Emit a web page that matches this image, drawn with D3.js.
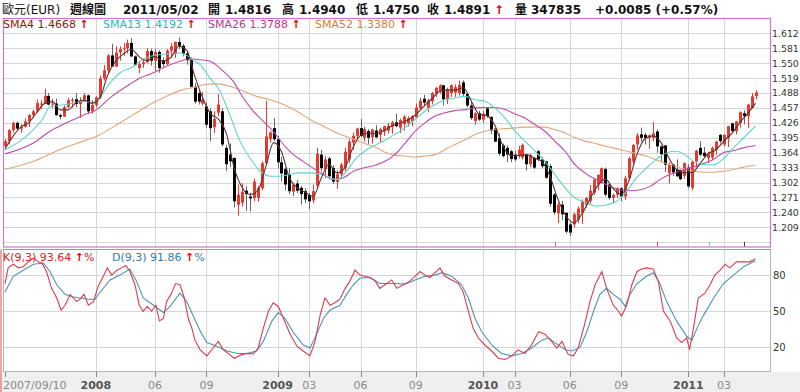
<!DOCTYPE html>
<html>
<head>
<meta charset="utf-8">
<script src="https://cdn.jsdelivr.net/npm/d3@7"></script>
<style>
  body { margin: 0; background: #fff; }
  svg { display: block; font-family: 'DejaVu Sans', 'Noto Sans CJK TC', sans-serif; }
</style>
</head>
<body>
<svg id="chart" width="800" height="392"></svg>
<script>
// EUR weekly candles, week 0 = 2007/09/10 ... week 190 = 2011/05/02

const open = [
  1.3780,1.3880,1.4110,1.4260,1.4140,1.4180,1.4290,1.4420,1.4500,1.4640,
  1.4660,1.4820,1.4640,1.4660,1.4420,1.4390,1.4590,1.4730,1.4750,1.4650,
  1.4700,1.4830,1.4500,1.4630,1.4790,1.5180,1.5350,1.5660,1.5430,1.5720,
  1.5790,1.5810,1.5920,1.5640,1.5400,1.5480,1.5520,1.5750,1.5550,1.5730,
  1.5560,1.5480,1.5760,1.5690,1.5940,1.5860,1.5700,1.5560,1.5010,1.4880,
  1.4660,1.4600,1.4500,1.4170,1.4470,1.4500,1.3740,1.3600,1.3530,1.2560,
  1.2600,1.2850,1.2730,1.2700,1.2700,1.2900,1.3420,1.3920,1.4150,1.3920,
  1.3440,1.3300,1.3180,1.2830,1.3000,1.2910,1.2840,1.2760,1.2650,1.2960,
  1.3600,1.3300,1.3520,1.3320,1.3030,1.3190,1.3330,1.3500,1.3850,1.3990,
  1.4150,1.3950,1.4090,1.3960,1.4100,1.4010,1.4080,1.4100,1.4180,1.4270,
  1.4160,1.4230,1.4250,1.4290,1.4370,1.4570,1.4760,1.4570,1.4710,1.4860,
  1.4920,1.5040,1.4750,1.4880,1.4890,1.4880,1.5100,1.4860,1.4620,1.4300,
  1.4460,1.4330,1.4560,1.4380,1.4140,1.3940,1.3790,1.3740,1.3670,1.3600,
  1.3570,1.3540,1.3600,1.3400,1.3530,1.3670,1.3500,1.3460,1.3360,1.2770,
  1.2380,1.2560,1.2390,1.2150,1.2150,1.2250,1.2390,1.2560,1.2640,1.2810,
  1.2980,1.3050,1.3300,1.2980,1.2700,1.2770,1.2900,1.2730,1.3110,1.3460,
  1.3810,1.4020,1.4010,1.3950,1.3950,1.4080,1.3770,1.3790,1.3220,1.3390,
  1.3290,1.3280,1.3160,1.3330,1.2910,1.3460,1.3740,1.3640,1.3530,1.3540,
  1.3700,1.4010,1.3810,1.3950,1.4250,1.4090,1.4260,1.4460,1.4400,1.4570,
  1.4816
];
const high = [
  1.3920,1.4130,1.4280,1.4290,1.4230,1.4350,1.4440,1.4530,1.4750,1.4730,
  1.4967,1.4880,1.4760,1.4760,1.4450,1.4620,1.4780,1.4780,1.4880,1.4790,
  1.4880,1.4850,1.4730,1.4810,1.5240,1.5460,1.5690,1.5900,1.5850,1.5850,
  1.5920,1.5990,1.6020,1.5660,1.5540,1.5570,1.5810,1.5800,1.5800,1.5770,
  1.5620,1.5790,1.5920,1.5950,1.6038,1.5900,1.5740,1.5620,1.5080,1.4950,
  1.4900,1.4680,1.4560,1.4500,1.4860,1.4560,1.3800,1.3830,1.3540,1.2980,
  1.3000,1.2940,1.2810,1.3100,1.2950,1.3460,1.4720,1.4090,1.4360,1.3980,
  1.3550,1.3330,1.3320,1.3000,1.3070,1.2950,1.2900,1.2800,1.2980,1.3740,
  1.3700,1.3570,1.3560,1.3380,1.3270,1.3430,1.3740,1.3920,1.4060,1.4160,
  1.4340,1.4180,1.4130,1.4140,1.4210,1.4160,1.4200,1.4260,1.4300,1.4450,
  1.4350,1.4420,1.4400,1.4420,1.4660,1.4780,1.4840,1.4760,1.4900,1.5000,
  1.5060,1.5050,1.4990,1.5060,1.5060,1.5140,1.5144,1.4880,1.4720,1.4480,
  1.4510,1.4510,1.4580,1.4400,1.4160,1.4040,1.3830,1.3790,1.3700,1.3680,
  1.3780,1.3830,1.3620,1.3620,1.3550,1.3700,1.3550,1.3470,1.3400,1.2800,
  1.2600,1.2640,1.2400,1.2180,1.2390,1.2520,1.2670,1.2720,1.2970,1.3100,
  1.3190,1.3330,1.3330,1.2990,1.2790,1.2920,1.2920,1.3160,1.3560,1.3820,
  1.4050,1.4160,1.4050,1.4020,1.4280,1.4120,1.3790,1.3800,1.3440,1.3400,
  1.3500,1.3290,1.3440,1.3400,1.3470,1.3700,1.3880,1.3760,1.3660,1.3770,
  1.3890,1.4030,1.4020,1.4200,1.4260,1.4300,1.4500,1.4520,1.4650,1.4880,
  1.4940
];
const low = [
  1.3750,1.3810,1.4060,1.4090,1.4050,1.4160,1.4180,1.4360,1.4480,1.4550,
  1.4650,1.4620,1.4560,1.4400,1.4330,1.4380,1.4560,1.4580,1.4580,1.4360,
  1.4690,1.4440,1.4450,1.4580,1.4760,1.5140,1.5300,1.5460,1.5420,1.5550,
  1.5650,1.5700,1.5630,1.5450,1.5290,1.5400,1.5500,1.5450,1.5340,1.5300,
  1.5420,1.5450,1.5610,1.5610,1.5800,1.5640,1.5470,1.5000,1.4660,1.4640,
  1.4620,1.4150,1.3880,1.4050,1.4400,1.3770,1.3260,1.3340,1.2500,1.2330,
  1.2520,1.2430,1.2420,1.2630,1.2620,1.2860,1.3400,1.3850,1.3880,1.3310,
  1.3040,1.2860,1.2780,1.2740,1.2800,1.2560,1.2600,1.2460,1.2590,1.2900,
  1.3250,1.3110,1.3100,1.2990,1.2890,1.3090,1.3230,1.3430,1.3700,1.3880,
  1.3960,1.3870,1.3820,1.3830,1.3940,1.3850,1.3990,1.4040,1.4030,1.4170,
  1.4050,1.4100,1.4180,1.4190,1.4350,1.4530,1.4600,1.4480,1.4640,1.4800,
  1.4860,1.4620,1.4650,1.4800,1.4800,1.4830,1.4800,1.4580,1.4320,1.4220,
  1.4300,1.4260,1.4360,1.4030,1.3860,1.3580,1.3540,1.3440,1.3440,1.3460,
  1.3520,1.3500,1.3270,1.3340,1.3300,1.3470,1.3320,1.3100,1.2520,1.2350,
  1.2180,1.2240,1.1960,1.1900,1.2080,1.2180,1.2160,1.2500,1.2580,1.2760,
  1.2860,1.3000,1.2730,1.2660,1.2590,1.2700,1.2630,1.2660,1.3060,1.3400,
  1.3700,1.3870,1.3810,1.3720,1.3880,1.3640,1.3450,1.3240,1.3000,1.3160,
  1.3130,1.3070,1.3100,1.2900,1.2860,1.3340,1.3570,1.3540,1.3430,1.3490,
  1.3600,1.3830,1.3770,1.3760,1.4050,1.4020,1.4160,1.4230,1.4150,1.4560,
  1.4750
];
const close = [
  1.3880,1.4110,1.4260,1.4140,1.4180,1.4290,1.4420,1.4500,1.4670,1.4660,
  1.4820,1.4640,1.4660,1.4420,1.4390,1.4590,1.4730,1.4740,1.4650,1.4700,
  1.4830,1.4500,1.4630,1.4790,1.5180,1.5350,1.5660,1.5430,1.5720,1.5790,
  1.5810,1.5920,1.5640,1.5460,1.5480,1.5520,1.5750,1.5550,1.5730,1.5400,
  1.5480,1.5760,1.5850,1.5940,1.5860,1.5700,1.5560,1.5010,1.4700,1.4700,
  1.4740,1.4220,1.4150,1.4340,1.4640,1.3810,1.3400,1.3460,1.2630,1.2770,
  1.2830,1.2780,1.2690,1.3040,1.2900,1.3420,1.3980,1.4060,1.3920,1.3440,
  1.3210,1.2980,1.2840,1.2980,1.2850,1.2780,1.2670,1.2630,1.2840,1.3620,
  1.3320,1.3500,1.3150,1.3040,1.3190,1.3390,1.3660,1.3870,1.3990,1.4140,
  1.3990,1.4130,1.3950,1.4120,1.3960,1.4130,1.4190,1.4200,1.4270,1.4190,
  1.4320,1.4390,1.4360,1.4400,1.4580,1.4720,1.4680,1.4730,1.4880,1.4990,
  1.5040,1.4750,1.4960,1.5040,1.5000,1.5050,1.4860,1.4620,1.4360,1.4460,
  1.4330,1.4450,1.4400,1.4100,1.3870,1.3620,1.3570,1.3600,1.3510,1.3500,
  1.3700,1.3800,1.3400,1.3590,1.3330,1.3500,1.3360,1.3120,1.2580,1.2400,
  1.2560,1.2360,1.2000,1.1980,1.2360,1.2480,1.2620,1.2700,1.2850,1.3080,
  1.3180,1.3320,1.2770,1.2700,1.2760,1.2900,1.2730,1.3110,1.3520,1.3800,
  1.4000,1.3950,1.3950,1.4000,1.4040,1.3770,1.3610,1.3390,1.3390,1.3230,
  1.3150,1.3090,1.3420,1.2940,1.3450,1.3680,1.3600,1.3570,1.3630,1.3740,
  1.3870,1.3880,1.4010,1.4190,1.4090,1.4290,1.4480,1.4400,1.4640,1.4810,
  1.4891
];

// moving averages: [week, value]
const sma4 = [
  [0,1.372],[2,1.398],[4,1.417],[6,1.426],[8,1.447],[10,1.466],[12,1.470],[14,1.453],
  [16,1.453],[18,1.468],[20,1.473],[22,1.467],[24,1.478],[26,1.525],[28,1.554],[30,1.569],
  [32,1.579],[34,1.563],[36,1.555],[38,1.564],[40,1.554],[42,1.562],[44,1.585],[46,1.577],
  [48,1.524],[50,1.479],[52,1.445],[54,1.434],[56,1.405],[58,1.333],[60,1.292],[62,1.277],
  [64,1.285],[66,1.334],[68,1.385],[70,1.366],[72,1.312],[74,1.291],[76,1.282],[78,1.273],
  [80,1.310],[82,1.340],[84,1.322],[86,1.332],[88,1.373],[90,1.400],[92,1.405],[94,1.404],
  [96,1.410],[98,1.420],[100,1.425],[102,1.432],[104,1.443],[106,1.460],[108,1.475],[110,1.491],
  [112,1.494],[114,1.494],[116,1.499],[118,1.472],[120,1.444],[122,1.441],[124,1.421],[126,1.379],
  [128,1.358],[130,1.358],[132,1.360],[134,1.353],[136,1.345],[138,1.314],[140,1.267],[142,1.233],
  [144,1.218],[146,1.236],[148,1.266],[150,1.295],[152,1.309],[154,1.289],[156,1.277],[158,1.307],
  [160,1.361],[162,1.393],[164,1.399],[166,1.386],[168,1.354],[170,1.329],[172,1.322],[174,1.323],
  [176,1.342],[178,1.362],[180,1.370],[182,1.388],[184,1.404],[186,1.426],[188,1.445],[190,1.4668]
];
const sma13 = [
  [0,1.370],[3.8,1.388],[7.2,1.412],[9.7,1.436],[11.4,1.460],[15.6,1.464],[19.8,1.471],[22.4,1.467],
  [24,1.478],[26.6,1.509],[29.1,1.530],[32.5,1.543],[34.2,1.554],[36.7,1.564],[40.9,1.569],[44.3,1.571],
  [46,1.566],[48.1,1.554],[49.4,1.547],[51.9,1.519],[54.4,1.492],[56.9,1.443],[59.5,1.388],[62,1.353],
  [64.6,1.326],[67.1,1.315],[69.6,1.315],[72.2,1.319],[74.7,1.322],[77.2,1.322],[79.8,1.319],[82.3,1.312],
  [84,1.308],[86.5,1.326],[89,1.353],[91.6,1.370],[94.1,1.381],[96.2,1.390],[98.7,1.402],[101.3,1.416],
  [103.8,1.433],[106.3,1.450],[108.9,1.464],[111.4,1.474],[113.9,1.478],[116.5,1.481],[119,1.474],[121.5,1.471],
  [124,1.457],[126.6,1.436],[129.1,1.409],[131.6,1.388],[134.2,1.367],[136.7,1.346],[139.2,1.319],[141.8,1.291],
  [144.3,1.270],[146.8,1.261],[149.8,1.253],[152.3,1.256],[154.9,1.263],[157.4,1.284],[159.9,1.312],[162.4,1.332],
  [164.9,1.350],[167.5,1.364],[170,1.367],[172.6,1.357],[174.3,1.346],[176.8,1.339],[179.4,1.339],[182.1,1.353],
  [184.4,1.374],[187,1.395],[190,1.4192]
];
const sma26 = [
  [0,1.3615],[7.2,1.384],[11.4,1.4085],[15.6,1.426],[19.8,1.442],[23.2,1.4535],[26.6,1.478],[30.8,1.502],
  [34.2,1.519],[37.6,1.530],[40.9,1.5435],[44.3,1.554],[46.8,1.559],[49.4,1.557],[51.9,1.554],[55.3,1.533],
  [57.8,1.512],[60.3,1.478],[62.9,1.450],[65.4,1.429],[67.9,1.4085],[70.5,1.381],[73,1.360],[75.5,1.346],
  [78,1.332],[80.6,1.319],[83.1,1.308],[85.7,1.312],[88.2,1.3255],[90.7,1.332],[94.1,1.339],[96.2,1.346],
  [98.7,1.360],[101.3,1.384],[103.8,1.4085],[106.3,1.426],[108.9,1.440],[111.4,1.447],[113.9,1.4514],[116.5,1.4535],
  [119,1.457],[121.5,1.458],[124,1.458],[126.6,1.4535],[129.1,1.4445],[131.6,1.436],[134.2,1.422],[136.7,1.4085],
  [139.2,1.388],[141.8,1.367],[144.3,1.339],[146.8,1.322],[148.1,1.315],[150.6,1.305],[153.2,1.294],[155.7,1.287],
  [158.2,1.285],[160.8,1.287],[163.3,1.294],[165.8,1.308],[168.4,1.319],[170.9,1.3255],[173.4,1.332],[176,1.339],
  [179.3,1.350],[181.9,1.364],[184.4,1.368],[186.9,1.374],[190,1.3788]
];
const sma52 = [
  [0,1.329],[7.2,1.346],[13.9,1.3705],[19.8,1.388],[23.2,1.398],[28.3,1.422],[32.5,1.443],[36.7,1.464],
  [40.9,1.481],[45.1,1.495],[48.1,1.500],[50.2,1.505],[53.6,1.507],[56.9,1.502],[60.3,1.492],[63.7,1.481],
  [67.1,1.474],[70.5,1.464],[73.9,1.450],[77.2,1.433],[80.6,1.419],[84,1.405],[87.3,1.395],[90.7,1.384],
  [94.1,1.374],[96.2,1.365],[98.7,1.359],[101.3,1.357],[103.8,1.355],[106.3,1.357],[108.9,1.360],[111.4,1.3705],
  [113.9,1.381],[116.5,1.391],[119,1.402],[121.5,1.4085],[124,1.412],[126.6,1.414],[129.1,1.4155],[131.6,1.417],
  [134.2,1.417],[136.7,1.417],[139.2,1.412],[141.8,1.405],[144.3,1.395],[146.8,1.388],[149,1.384],[152.3,1.377],
  [155.7,1.3705],[159.1,1.3636],[162.4,1.357],[165.8,1.346],[168.4,1.339],[170.9,1.332],[173.4,1.327],[176,1.324],
  [179.3,1.3234],[181.9,1.3255],[184.4,1.329],[186.9,1.334],[190,1.338]
];

// stochastic K(9,3) and D(9,3): [week, value]
const kLine = [
  [0,73],[0.8,86],[2.1,89],[3.4,86],[4.6,87],[5.9,91],[7.2,94],[8.4,91],[9.3,90],[10.5,83],
  [11.8,69],[13.1,61],[14.2,51],[15.2,55],[16.5,64],[17.3,61],[18.1,58],[19,60],[20,64],[21.1,55],
  [22.4,58],[23.6,71],[24.9,79],[25.9,86],[27,80],[28.3,84],[29.5,86],[30.6,88],[31.6,83],[32.9,72],
  [34,55],[35,50],[36,54],[37.1,50],[38.2,55],[39.1,42],[40.1,44],[40.9,58],[42,64],[43.2,73],
  [44.3,72],[45.4,61],[46.4,44],[47.3,36],[48.1,26],[49.4,18],[51.1,13],[52.7,19.5],[54,25],[55.3,18],
  [56.9,14],[58,11],[59.9,14],[61.2,15],[62.9,14.5],[64.1,19.5],[65.4,36],[66.7,50],[67.9,57],[69.2,54],
  [70.5,44],[72.2,31],[73.9,21],[75.5,17],[77.2,13],[78.5,25],[79.8,47],[81,61],[82.3,55],[83.5,57],
  [84.8,60],[86.1,69],[87.3,75],[88.6,84],[89.9,80],[91.1,79],[92.4,78],[93.7,75],[94.9,69],[96.2,72],
  [97.9,76],[99.2,69],[100.8,72],[102.5,75],[103.8,79],[105.1,83],[106.3,80],[107.6,78],[108.9,82],[110.1,86],
  [111.4,79],[113.1,76],[114.8,73],[116,66],[117.3,50],[118.5,36],[119.8,28],[121.5,22],[123.2,17],[124.9,11],
  [126.6,10],[128.3,13],[129.9,18],[131.6,15],[133.3,22],[135.1,33],[136.7,31],[138.4,25],[139.7,19.5],[141,25],
  [142.6,14],[143.9,13],[145.1,19.5],[146.8,40],[148.1,58],[149.4,72],[151.1,83],[152.3,69],[154,55],[155.3,50],
  [156.1,46],[157.4,55],[158.7,72],[160,83],[161.2,85],[162.4,86],[164.1,85],[165.4,75],[166.7,50],[168.4,42],
  [170,28],[171.3,24],[172.6,28],[173.3,18],[174.3,36],[175.5,61],[177.2,65],[178.5,72],[179.7,80],[181,84],
  [182.3,89],[183.5,86],[185.2,91],[186.9,91],[188.6,91],[190,93.64]
];
const dLine = [
  [0,66],[2.1,79],[4.6,84],[7.2,89],[9.7,90],[11.4,83],[13.1,72],[15.2,64],[16.9,62],[19,61],
  [21.1,60],[22.8,60],[24.1,66],[26.6,76],[29.1,80],[31.6,85],[33.3,75],[35,61],[37.6,55],[40.1,49],
  [41.8,54],[44.3,65],[46,58],[48.1,43],[49.5,33],[51.1,24],[53.6,21],[56.2,17],[58.8,15],[61.4,15],
  [63.7,17],[65.4,25],[67.6,42],[69.2,49],[70.9,44],[72.9,33],[75.5,22],[77.2,19.5],[78.9,31],[80.6,44],
  [82.3,51],[84.8,55],[86.5,64],[88.2,72],[89.9,77.6],[92.4,78],[94.9,73],[97.5,73],[98.7,73],[101.3,72.5],
  [103.8,76],[106.3,79],[108.9,80],[110.6,82],[113.1,79],[115.6,72],[117.3,61],[119,44],[120.7,33],[123.2,22],
  [125.7,15],[128.3,13],[130.8,15],[133.3,19.5],[135.9,26],[137.6,28],[139.2,24],[141.8,18],[143.5,17],[145.6,20],
  [147.3,33],[149,50],[150.6,64],[152.3,69],[154,64],[155.7,60],[157,54],[158.2,64],[160,73],[162.4,79],
  [164.1,82],[165.8,73],[167.5,58],[170,42],[172.6,29],[173.9,26],[175.2,36],[176.9,47],[179.4,61],[181.9,73],
  [184.4,80],[187,87],[190,91.86]
];

const priceTicks = [1.612,1.581,1.550,1.519,1.488,1.457,1.426,1.395,1.364,1.333,1.302,1.271,1.240,1.209];
const priceGrid = [1.643,1.612,1.581,1.550,1.519,1.488,1.457,1.426,1.395,1.364,1.333,1.302,1.271,1.240,1.209,1.178];
const kdTicks = [80, 50, 20];
const timeTicks = [0, 23, 38, 51, 69, 77, 90, 104, 121, 129, 143, 156, 173, 182];
const timeLabels = ['2007/09/10','2008','06','09','2009','03','06','09','2010','03','06','09','2011','03'];
const markers = [139.2, 165.1, 178.2, 187.2];
const markerColors = ['#c8703c', '#c24aa8', '#5fd3cc', '#444'];

const header = [
  ['歐元(EUR)', 2], ['週線圖', 70], ['2011/05/02', 123],
  ['開', 208], ['1.4816', 225], ['高', 282], ['1.4940', 299],
  ['低', 356], ['1.4750', 373], ['收', 427], ['1.4891', 444],
  ['量', 515], ['347835', 531], ['+0.0085 (+0.57%)', 595]
];

let svg = d3.select('#chart');
const W = 800, H = 392;
const pane = {left: 3.5, right: 770.5, top: 18.5, bottom: 247};
const kdPane = {top: 249.5, bottom: 371.5};

let x = d3.scaleLinear().domain([0, 190]).range([5, 755.5]);
let y = d3.scaleLinear().domain([1.209, 1.612]).range([227.3, 33.3]);
let yK = d3.scaleLinear().domain([0, 100]).range([371.5, 251]);

const upColor = '#e8392f', downColor = '#000';

svg.append('rect').attr('width', W).attr('height', H).attr('fill', '#fff');
svg.append('rect').attr('x', 0).attr('y', 372).attr('width', W).attr('height', 20).attr('fill', '#efefef');

let defs = svg.append('defs');
defs.append('clipPath').attr('id', 'clipPrice').append('rect')
  .attr('x', pane.left).attr('y', pane.top).attr('width', pane.right - pane.left).attr('height', pane.bottom - pane.top);
defs.append('clipPath').attr('id', 'clipKD').append('rect')
  .attr('x', pane.left).attr('y', kdPane.top).attr('width', pane.right - pane.left).attr('height', kdPane.bottom - kdPane.top);

// panel backgrounds
svg.append('rect').attr('x', pane.left).attr('y', pane.top)
  .attr('width', pane.right - pane.left).attr('height', pane.bottom - pane.top).attr('fill', '#fff');
svg.append('rect').attr('x', pane.left).attr('y', kdPane.top)
  .attr('width', pane.right - pane.left).attr('height', kdPane.bottom - kdPane.top).attr('fill', '#fff');

// grid
let grid = svg.append('g').attr('stroke', '#d6d6d6').attr('stroke-width', 1);
grid.selectAll('.hp').data(priceGrid).enter().append('line')
  .attr('x1', pane.left).attr('x2', pane.right)
  .attr('y1', d => Math.round(y(d)) + 0.5).attr('y2', d => Math.round(y(d)) + 0.5);
grid.selectAll('.hk').data(kdTicks).enter().append('line')
  .attr('x1', pane.left).attr('x2', pane.right)
  .attr('y1', d => Math.round(yK(d)) + 0.5).attr('y2', d => Math.round(yK(d)) + 0.5);
grid.selectAll('.vp').data(timeTicks.slice(1)).enter().append('line')
  .attr('x1', d => Math.round(x(d)) + 0.5).attr('x2', d => Math.round(x(d)) + 0.5)
  .attr('y1', pane.top).attr('y2', pane.bottom);
grid.selectAll('.vk').data(timeTicks.slice(1)).enter().append('line')
  .attr('x1', d => Math.round(x(d)) + 0.5).attr('x2', d => Math.round(x(d)) + 0.5)
  .attr('y1', kdPane.top).attr('y2', kdPane.bottom);

// candles
let candles = close.map((c, i) => ({i: i, o: open[i], h: high[i], l: low[i], c: c}));
let cg = svg.append('g').attr('clip-path', 'url(#clipPrice)');

cg.selectAll('.wick').data(candles).enter().append('line')
  .attr('x1', d => Math.round(x(d.i)) + 0.5)
  .attr('x2', d => Math.round(x(d.i)) + 0.5)
  .attr('y1', d => y(d.h))
  .attr('y2', d => y(d.l))
  .attr('stroke', d => d.c >= d.o ? upColor : '#666')
  .attr('stroke-width', 1);

cg.selectAll('.body').data(candles).enter().append('rect')
  .attr('x', d => Math.round(x(d.i)) - 1)
  .attr('width', 3)
  .attr('y', d => y(Math.max(d.o, d.c)))
  .attr('height', d => Math.max(1, Math.abs(y(d.o) - y(d.c))))
  .attr('fill', d => d.c >= d.o ? upColor : downColor);

// moving averages
let smaLine = d3.line().x(d => x(d[0])).y(d => y(d[1])).curve(d3.curveMonotoneX);
const smaSeries = [
  {data: sma52, color: '#e4a679'},
  {data: sma26, color: '#c24aa8'},
  {data: sma13, color: '#5fd3cc'},
  {data: sma4, color: '#5a3434'}
];
cg.selectAll('.sma').data(smaSeries).enter().append('path')
  .attr('d', d => smaLine(d.data))
  .attr('fill', 'none')
  .attr('stroke', d => d.color)
  .attr('stroke-width', 1.1);

// little markers on the bottom of the price pane
svg.selectAll('.mk').data(markers).enter().append('line')
  .attr('x1', d => Math.round(x(d)) + 0.5).attr('x2', d => Math.round(x(d)) + 0.5)
  .attr('y1', 242).attr('y2', 247)
  .attr('stroke', (d, i) => markerColors[i]);

// K / D
let kdLine = d3.line().x(d => x(d[0])).y(d => yK(d[1]));
let kg = svg.append('g').attr('clip-path', 'url(#clipKD)');
kg.append('path').attr('d', kdLine(dLine)).attr('fill', 'none').attr('stroke', '#4a93b3').attr('stroke-width', 1.1);
kg.append('path').attr('d', kdLine(kLine)).attr('fill', 'none').attr('stroke', '#dc3c4c').attr('stroke-width', 1.1);

// frames
svg.append('rect').attr('x', pane.left).attr('y', pane.top)
  .attr('width', pane.right - pane.left).attr('height', pane.bottom - pane.top)
  .attr('fill', 'none').attr('stroke', '#cc77cc').attr('stroke-width', 1.2);
svg.append('rect').attr('x', pane.left).attr('y', kdPane.top)
  .attr('width', pane.right - pane.left).attr('height', kdPane.bottom - kdPane.top)
  .attr('fill', 'none').attr('stroke', '#b5b5b5').attr('stroke-width', 1);
svg.append('line').attr('x1', pane.left).attr('x2', pane.right)
  .attr('y1', kdPane.top).attr('y2', kdPane.top).attr('stroke', '#cc77cc').attr('stroke-width', 1.2);
svg.append('line').attr('x1', 1).attr('x2', 1).attr('y1', kdPane.top).attr('y2', H)
  .attr('stroke', '#e05050').attr('stroke-width', 1);

// right axis labels
svg.selectAll('.pl').data(priceTicks).enter().append('text')
  .attr('x', 772).attr('y', d => y(d) + 3.5)
  .attr('font-size', 9.4).attr('fill', '#333')
  .text(d => d.toFixed(3));
svg.selectAll('.kl').data(kdTicks).enter().append('text')
  .attr('x', 773).attr('y', d => yK(d) + 3.5)
  .attr('font-size', 10).attr('fill', '#333')
  .text(d => d);

// time axis
let tg = svg.append('g');
tg.selectAll('line').data(timeTicks).enter().append('line')
  .attr('x1', d => Math.round(x(d)) + 0.5).attr('x2', d => Math.round(x(d)) + 0.5)
  .attr('y1', 372).attr('y2', 377).attr('stroke', '#888');
tg.selectAll('text').data(timeTicks).enter().append('text')
  .attr('x', (d, i) => i === 0 ? 3 : x(d))
  .attr('y', 389)
  .attr('text-anchor', (d, i) => i === 0 ? 'start' : 'middle')
  .attr('font-size', 11)
  .attr('font-weight', (d, i) => timeLabels[i].length === 4 ? 'bold' : 'normal')
  .attr('fill', (d, i) => timeLabels[i].length === 4 ? '#555' : '#8a8a8a')
  .text((d, i) => timeLabels[i]);

// header line
let hg = svg.append('g').attr('font-size', 12).attr('font-weight', 'bold').attr('fill', '#111');
hg.selectAll('text').data(header).enter().append('text')
  .attr('x', d => d[1]).attr('y', 13.5)
  .attr('font-weight', (d, i) => i === 0 ? 'normal' : 'bold')
  .text(d => d[0]);
hg.append('text').attr('x', 494).attr('y', 13.5).attr('fill', '#e00').text('↑');

// legends
function legend(parent, xPos, yPos, label, color, suffix) {
  let t = parent.append('text').attr('x', xPos).attr('y', yPos)
    .attr('font-size', 11).attr('fill', color).text(label + ' ');
  t.append('tspan').attr('fill', '#e00').attr('font-weight', 'bold').text('↑');
  if (suffix) t.append('tspan').attr('fill', color).text(suffix);
}
legend(svg, 3, 28, 'SMA4 1.4668', '#8b1a1a');
legend(svg, 103, 28, 'SMA13 1.4192', '#2bb8b8');
legend(svg, 208, 28, 'SMA26 1.3788', '#c8318f');
legend(svg, 315, 28, 'SMA52 1.3380', '#e07b39');
legend(svg, 3, 261, 'K(9,3) 93.64', '#e02020', '%');
legend(svg, 112, 261, 'D(9,3) 91.86', '#2f7ab5', '%');
</script>
</body>
</html>
